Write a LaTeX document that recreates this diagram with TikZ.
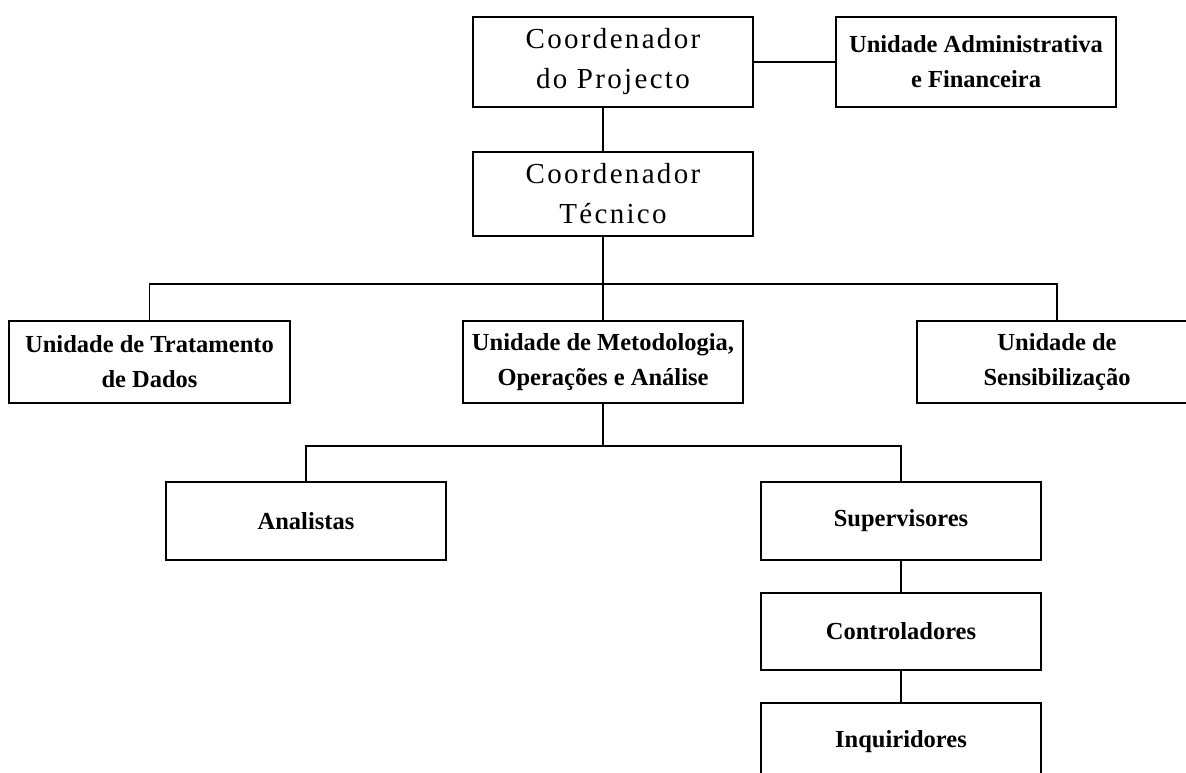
\documentclass[tikz,border=0pt]{standalone}
\usepackage{fontspec}
\setmainfont{Liberation Serif}
\newfontfamily\coordfont[LetterSpace=8]{Liberation Serif}
\usetikzlibrary{calc}
\tikzset{
  box/.style={draw=black, line width=1.3pt, rectangle, minimum width=280pt, inner sep=0pt, align=center, fill=white},
  unit/.style={box, font=\fontsize{24.5}{35}\selectfont\bfseries},
  coord/.style={box, font=\coordfont\fontsize{29}{40}\selectfont},
  link/.style={draw=black, line width=1.3pt}
}
\begin{document}
\begin{tikzpicture}[x=1pt,y=-1pt]
\useasboundingbox (0,0) rectangle (1186,773);
\clip (0,0) rectangle (1186,773);
\fill[white] (0,0) rectangle (1186,773);
% top level
\node[coord, minimum height=90pt] (cp) at (613,62) {Coordenador\\do Projecto};
\node[unit, minimum height=90pt] (adm) at (976,62) {Unidade Administrativa\\e Financeira};
\node[coord, minimum height=84pt] (ct) at (613,194) {Coordenador\\Técnico};
% level 2
\node[unit, minimum height=82pt, minimum width=281pt] (trat) at (149.5,362) {Unidade de Tratamento\\de Dados};
\node[unit, minimum height=82pt] (met) at (603,362) {Unidade de Metodologia,\\Operações e Análise};
\node[unit, minimum height=82pt] (sens) at (1057,362) {Unidade de\\Sensibilização};
% level 3
\node[unit, minimum height=78pt] (ana) at (306,521) {Analistas};
\node[unit, minimum height=78pt] (sup) at (901,521) {Supervisores};
\node[unit, minimum height=77pt] (con) at (901,631.5) {Controladores};
\node[unit, minimum height=78pt] (inq) at (901,742) {Inquiridores};
% buses
\coordinate (bus1) at (603,284);
\coordinate (bus2) at (603,446);
% connectors
\draw[link] (cp.east) -- (adm.west);
\draw[link] (cp.south -| met.north) -- (ct.north -| met.north);
\draw[link] (ct.south -| met.north) -- (met.north);
\draw[link] (trat.north) |- (bus1) -| (sens.north);
\draw[link] (met.south) -- (bus2);
\draw[link] (ana.north) |- (bus2) -| (sup.north);
\draw[link] (sup.south) -- (con.north);
\draw[link] (con.south) -- (inq.north);
\end{tikzpicture}
\end{document}
